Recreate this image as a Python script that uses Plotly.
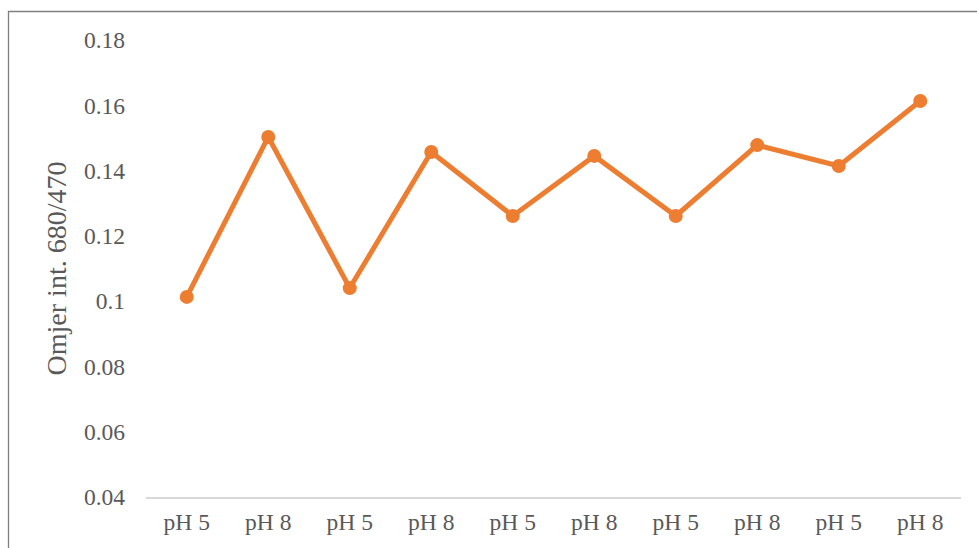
import plotly.graph_objects as go

# Sample sequence, alternating pH
categories = ["pH 5", "pH 8", "pH 5", "pH 8", "pH 5", "pH 8", "pH 5", "pH 8", "pH 5", "pH 8"]
ratio_680_470 = [0.1013, 0.1503, 0.1040, 0.1457, 0.1261, 0.1445, 0.1261, 0.1478, 0.1414, 0.1613]

y_ticks = [0.04, 0.06, 0.08, 0.10, 0.12, 0.14, 0.16, 0.18]
y_tick_labels = ["0.04", "0.06", "0.08", "0.1", "0.12", "0.14", "0.16", "0.18"]
y_title = "Omjer int. 680/470"

W, H = 977, 548
L, R, T, B = 146, 16, 40, 51
pw, ph = W - L - R, H - T - B

fnt = "Liberation Serif, Times New Roman, serif"
grey = "#595959"
orange = "#ED7D31"

fig = go.Figure()
fig.add_trace(go.Scatter(
    x=list(range(len(categories))),
    y=ratio_680_470,
    mode="lines+markers",
    line=dict(color=orange, width=5),
    marker=dict(color=orange, size=14),
    showlegend=False,
))

# outer chart frame (px -> paper coordinates)
def px_x(p):
    return (p - L) / pw

def px_y(p):
    return (H - B - p) / ph

fig.add_shape(type="rect", xref="paper", yref="paper",
              x0=px_x(8.5), x1=px_x(990), y0=px_y(560), y1=px_y(11.5),
              line=dict(color="#7f7f7f", width=1.3), fillcolor="rgba(0,0,0,0)", layer="below")

fig.update_layout(
    width=W, height=H,
    margin=dict(l=L, r=R, t=T, b=B, autoexpand=False),
    paper_bgcolor="white", plot_bgcolor="white",
    font=dict(family=fnt, color=grey, size=23.5),
    xaxis=dict(
        range=[-0.5, len(categories) - 0.5],
        tickvals=list(range(len(categories))),
        ticktext=categories,
        showgrid=False, zeroline=False,
        showline=True, linecolor="#d9d9d9", linewidth=1.5,
        ticks="", ticklabelstandoff=3, automargin=False,
        tickfont=dict(family=fnt, color=grey, size=23.5),
    ),
    yaxis=dict(
        range=[0.04, 0.18],
        tickvals=y_ticks, ticktext=y_tick_labels,
        showgrid=False, zeroline=False, showline=False,
        ticks="", ticklabelstandoff=20, automargin=False,
        tickfont=dict(family=fnt, color=grey, size=23.5),
        title=dict(text=y_title, font=dict(family=fnt, color=grey, size=28), standoff=9),
    ),
)

fig.write_html("out.html")
